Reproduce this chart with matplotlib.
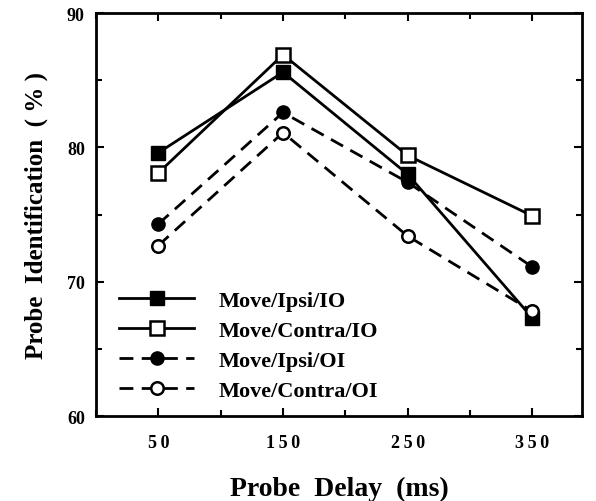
import matplotlib
matplotlib.use("Agg")
import matplotlib.pyplot as plt
from matplotlib.ticker import MultipleLocator

plt.rcParams['font.family'] = ['Liberation Serif', 'DejaVu Serif']
plt.rcParams['font.weight'] = 'bold'

delay = [50, 150, 250, 350]
delay_labels = ["5\u20090", "1\u20095\u20090", "2\u20095\u20090", "3\u20095\u20090"]
ipsi_io = [79.6, 85.6, 78.0, 67.3]
contra_io = [78.1, 86.9, 79.4, 74.9]
ipsi_oi = [74.3, 82.6, 77.4, 71.1]
contra_oi = [72.7, 81.1, 73.4, 67.8]
labels = ["Move/Ipsi/IO", "Move/Contra/IO", "Move/Ipsi/OI", "Move/Contra/OI"]

fig = plt.figure(figsize=(5.96, 5.02), dpi=100)
ax = fig.add_axes([0.161, 0.169, 0.816, 0.803])

dash = (0, (5, 3))
ax.plot(delay, ipsi_io, color='black', lw=2, marker='s', ms=10,
        mfc='black', mec='black', label=labels[0])
ax.plot(delay, contra_io, color='black', lw=2, marker='s', ms=10,
        mfc='white', mec='black', mew=1.8, label=labels[1])
ax.plot(delay, ipsi_oi, color='black', lw=2, linestyle=dash, marker='o', ms=9.5,
        mfc='black', mec='black', label=labels[2])
ax.plot(delay, contra_oi, color='black', lw=2, linestyle=dash, marker='o', ms=9,
        mfc='white', mec='black', mew=1.8, label=labels[3])

ax.set_xlim(0, 390)
ax.set_ylim(60, 90)
ax.set_xticks(delay)
ax.set_xticklabels(delay_labels, fontsize=13)
ax.set_yticks([60, 70, 80, 90])
ax.set_yticklabels(["60", "70", "80", "90"], fontsize=13)
ax.xaxis.set_minor_locator(MultipleLocator(50))
ax.yaxis.set_minor_locator(MultipleLocator(5))
ax.tick_params(which='both', direction='in', top=True, right=True, width=1.5)
ax.tick_params(which='major', length=6)
ax.tick_params(axis='x', which='major', pad=13)
ax.tick_params(axis='y', which='major', pad=8)
ax.tick_params(which='minor', length=4)
for s in ax.spines.values():
    s.set_linewidth(2)

ax.set_xlabel("Probe  Delay  (ms)", fontsize=20, fontweight='bold', labelpad=18)
ax.set_ylabel("Probe  Identification  ( % )", fontsize=18, fontweight='bold', labelpad=14)

leg = ax.legend(loc='lower left', bbox_to_anchor=(0.015, 0.0), frameon=False,
                fontsize=16, handlelength=3.4, handletextpad=1.1,
                labelspacing=0.42, borderaxespad=0.3)

fig.savefig("out.png", dpi=100)
